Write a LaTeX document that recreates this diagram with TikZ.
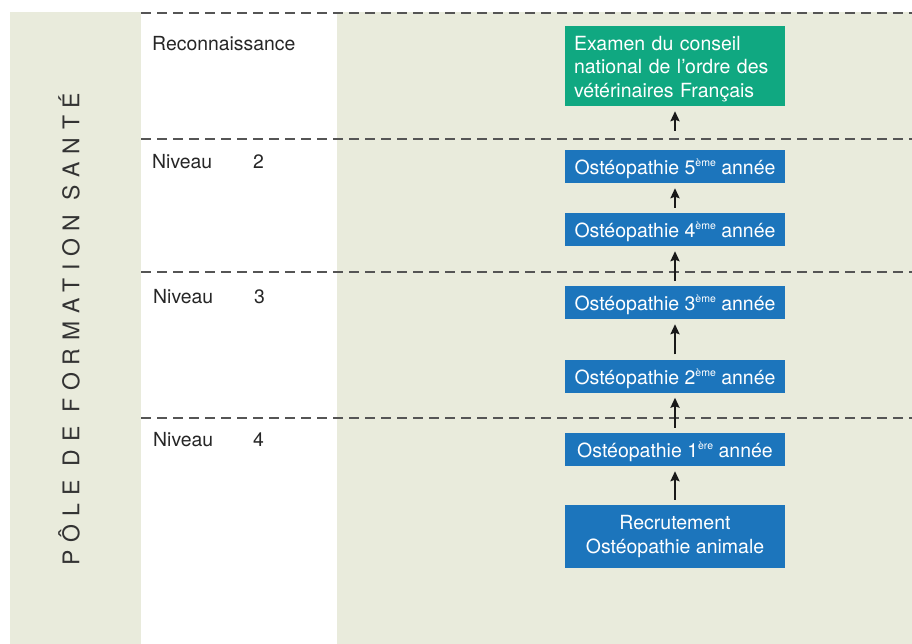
\documentclass[tikz,border=0pt]{standalone}
\usepackage{fontspec}
\setmainfont{TeX Gyre Heros}
\newfontfamily\titrefont[LetterSpace=34]{TeX Gyre Heros}
\usetikzlibrary{arrows.meta}
\definecolor{fond}{HTML}{E9EBDC}
\definecolor{bleu}{HTML}{1C75BC}
\definecolor{vert}{HTML}{10A881}
\definecolor{trait}{HTML}{555555}
\newcommand\expo[1]{\raisebox{8pt}{\fontsize{10.5}{10.5}\selectfont #1}}
\tikzset{
>={Stealth[length=10pt,width=9pt,inset=1.5pt]},
boite/.style={fill=bleu,text=white,minimum width=220pt,minimum height=33pt,inner sep=0pt,font=\fontsize{19.5}{23.5}\selectfont},
annee/.style={boite,text height=16pt,text depth=0pt},
recrutement/.style={boite,minimum height=63pt,align=center},
examen/.style={fill=vert,text=white,text width=202pt,inner xsep=9pt,minimum height=80pt,text height=20pt,align=left,font=\fontsize{19.5}{23.5}\selectfont},
fleche/.style={->,shorten >=5pt,shorten <=5pt,line width=2.2pt,draw=black!90},
tirets/.style={draw=trait,line width=1.3pt,dash pattern=on 10pt off 6pt},
niveau/.style={anchor=base west,inner sep=0pt,text=black!85,font=\fontsize{19.4}{23}\selectfont}}

\begin{document}
\begin{tikzpicture}[x=1pt,y=-1pt]

\useasboundingbox (0,0) rectangle (912,644);

\fill[fond] (10,12) rectangle (141,644);
\fill[fond] (337,12) rectangle (912,644);

\draw[tirets] (141,13) -- (912,13);
\draw[tirets] (141,139) -- (912,139);
\draw[tirets] (141,272) -- (912,272);
\draw[tirets] (141,418) -- (912,418);

\node (titre) at (69,329) [rotate=90,text=black!80,font=\titrefont\fontsize{23}{23}\selectfont] {PÔLE DE FORMATION SANTÉ};

\node (reco) at (152,51) [niveau] {Reconnaissance};
\node (niv2) at (152,169) [niveau] {Niveau};
\node (num2) at (253,169) [niveau] {2};
\node (niv3) at (153,303) [niveau] {Niveau};
\node (num3) at (254,303) [niveau] {3};
\node (niv4) at (153,446) [niveau] {Niveau};
\node (num4) at (253,446) [niveau] {4};

\node (exam) at (675,66) [examen] {Examen du conseil\\national de l'ordre des\\vétérinaires Français};
\node (b5) at (675,166.5) [annee] {Ostéopathie 5\expo{ème} année};
\node (b4) at (675,229.5) [annee] {Ostéopathie 4\expo{ème} année};
\node (b3) at (675,302.5) [annee] {Ostéopathie 3\expo{ème} année};
\node (b2) at (675,376) [annee] {Ostéopathie 2\expo{ème} année};
\node (b1) at (675,449.5) [annee] {Ostéopathie 1\expo{ère} année};
\node (recr) at (675,536.5) [recrutement] {Recrutement\\Ostéopathie animale};

\path[fleche] (b5) edge[shorten <=19pt] (exam);
\path[fleche] (b4) edge (b5);
\path[fleche] (b3) edge (b4);
\path[fleche] (b2) edge (b3);
\path[fleche] (b1) edge (b2);
\path[fleche] (recr) edge (b1);

\end{tikzpicture}
\end{document}
